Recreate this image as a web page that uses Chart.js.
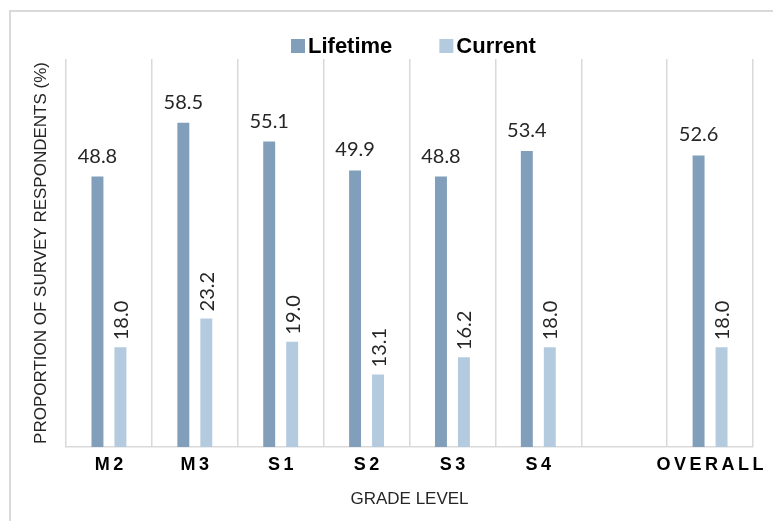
<!DOCTYPE html>
<html>
<head>
<meta charset="utf-8">
<script src="https://cdn.jsdelivr.net/npm/chart.js@4.4.1/dist/chart.umd.min.js"></script>
<style>
  html, body { margin: 0; padding: 0; background: #fff; }
  #wrap { width: 773px; height: 521px; }
</style>
</head>
<body>
<div id="wrap"><canvas id="chart" width="773" height="521"></canvas></div>
<script>
// Grade levels (the empty slot separates the grades from the overall figure)
const grades = ['M2', 'M3', 'S1', 'S2', 'S3', 'S4', '', 'OVERALL'];
// Percentages of respondents
const lifetime = [48.8, 58.5, 55.1, 49.9, 48.8, 53.4, null, 52.6];
const current  = [18.0, 23.2, 19.0, 13.1, 16.2, 18.0, null, 18.0];
const seriesNames = ['Lifetime', 'Current'];
const seriesColors = ['#819fba', '#b4cbdf'];
const yMax = 70;

const TEXT = '#262626';
const GRID = '#d9d9d9';
const SANS = '"Liberation Sans", Arial, sans-serif';
const LABEL_FONT = 'Lato, "Liberation Sans", sans-serif';

// Light frame round the whole chart
const framePlugin = {
  id: 'frame',
  beforeDraw(chart) {
    const ctx = chart.ctx;
    ctx.save();
    ctx.fillStyle = '#fff';
    ctx.fillRect(0, 0, chart.width, chart.height);
    ctx.strokeStyle = GRID;
    ctx.lineWidth = 2;
    ctx.strokeRect(10, 11, chart.width + 20, chart.height + 20);
    ctx.restore();
  }
};

// Value labels: Lifetime horizontal above the bar, Current rotated
const valueLabels = {
  id: 'valueLabels',
  afterDatasetsDraw(chart) {
    const ctx = chart.ctx;
    ctx.save();
    ctx.fillStyle = TEXT;
    ctx.font = '20px ' + LABEL_FONT;
    chart.data.datasets.forEach((ds, di) => {
      const meta = chart.getDatasetMeta(di);
      meta.data.forEach((bar, i) => {
        const v = ds.data[i];
        if (v == null) return;
        const txt = v.toFixed(1);
        if (di === 0) {
          ctx.textAlign = 'center';
          ctx.textBaseline = 'alphabetic';
          ctx.fillText(txt, bar.x, bar.y - 14);
        } else {
          ctx.save();
          ctx.translate(bar.x + 1, bar.y - 7);
          ctx.rotate(-Math.PI / 2);
          ctx.textAlign = 'left';
          ctx.textBaseline = 'middle';
          ctx.fillText(txt, 0, 0);
          ctx.restore();
        }
      });
    });
    ctx.restore();
  }
};

// Letter-spaced category labels under the axis
const categoryLabels = {
  id: 'categoryLabels',
  afterDraw(chart) {
    const ctx = chart.ctx;
    const xs = chart.scales.x;
    const spacing = 3.5;
    ctx.save();
    ctx.fillStyle = '#000';
    ctx.font = 'bold 18px ' + SANS;
    ctx.letterSpacing = spacing + 'px';
    ctx.textAlign = 'left';
    ctx.textBaseline = 'middle';
    grades.forEach((g, i) => {
      if (!g) return;
      const w = ctx.measureText(g).width - spacing;
      ctx.fillText(g, xs.getPixelForValue(i) - w / 2, 465);
    });
    ctx.restore();
  }
};

// Legend row above the plot
const legendRow = {
  id: 'legendRow',
  afterDraw(chart) {
    const ctx = chart.ctx;
    ctx.save();
    ctx.font = 'bold 22px ' + SANS;
    ctx.textBaseline = 'alphabetic';
    ctx.textAlign = 'left';
    let x = 291;
    chart.data.datasets.forEach((ds, di) => {
      ctx.fillStyle = ds.backgroundColor;
      ctx.fillRect(x, 39, 14, 14);
      x += 17;
      ctx.fillStyle = '#000';
      ctx.fillText(ds.label, x, 53);
      x += ctx.measureText(ds.label).width + 47;
    });
    ctx.restore();
  }
};

new Chart(document.getElementById('chart'), {
  type: 'bar',
  data: {
    labels: grades,
    datasets: [
      { label: seriesNames[0], data: lifetime, backgroundColor: seriesColors[0] },
      { label: seriesNames[1], data: current, backgroundColor: seriesColors[1] }
    ]
  },
  options: {
    responsive: false,
    animation: false,
    devicePixelRatio: 1,
    categoryPercentage: 0.535,
    barPercentage: 0.52,
    layout: { padding: { top: 59, left: 10, right: 20, bottom: 0 } },
    plugins: {
      legend: { display: false },
      tooltip: { enabled: false }
    },
    scales: {
      x: {
        grid: { offset: true, color: GRID, lineWidth: 1.5, drawTicks: false },
        border: { color: GRID, width: 1.5 },
        ticks: { display: false },
        title: {
          display: true, text: 'GRADE LEVEL', color: TEXT,
          font: { family: SANS, size: 17 }, padding: { top: 0, bottom: 11 }
        },
        afterFit(s) { s.height = 74; }
      },
      y: {
        min: 0, max: yMax,
        grid: { display: false },
        border: { display: false },
        ticks: { display: false },
        title: {
          display: true, text: 'PROPORTION OF SURVEY RESPONDENTS (%)', color: TEXT,
          font: { family: SANS, size: 17 }, padding: { top: 21, bottom: 0 }
        },
        afterFit(s) { s.width = 56; }
      }
    }
  },
  plugins: [framePlugin, valueLabels, categoryLabels, legendRow]
});
</script>
</body>
</html>
